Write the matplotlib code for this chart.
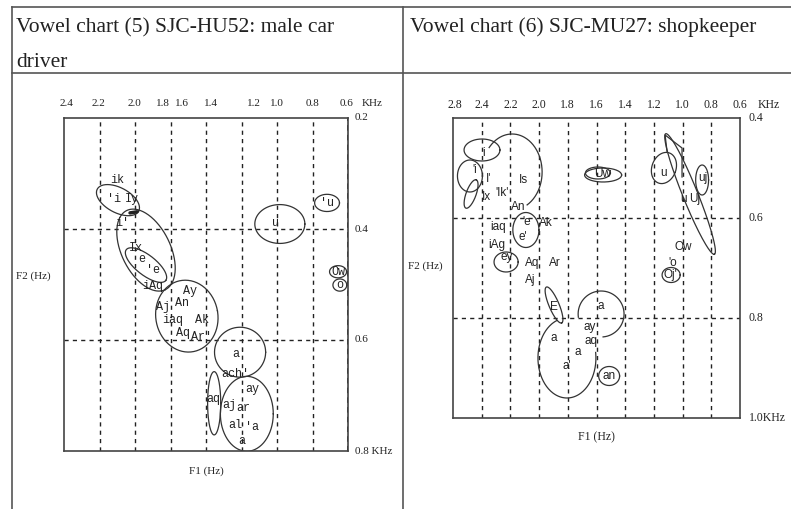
import matplotlib
matplotlib.use("Agg")
import matplotlib.pyplot as plt
import numpy as np

# ---- left chart (5): x = grid column (0..8), y = F1 kHz ----
l_xticks = [0.07, 0.98, 1.98, 2.79, 3.33, 4.15, 5.34, 6.0, 7.0, 7.95, 8.68]
l_xlabels = ['2.4', '2.2', '2.0', '1.8', '1.6', '1.4', '1.2', '1.0', '0.8', '0.6', 'KHz']
l_yticks = [0.2, 0.4, 0.6, 0.8]
l_ylabels = ['0.2', '0.4', '0.6', '0.8 KHz']

l_vowels = ['ik', "'i", 'Iy', "i'", 'Ix', 'e', "'e", 'iAq', 'Ay', 'An', 'Aj', 'iaq',
            'Ak', 'Aq', "Ar'", "a'", "ach'", 'aq', 'ay', 'aj', 'ar', 'al', "'a", 'a',
            'u', "'u", 'Ow', 'o']
l_vx = [1.49, 1.42, 1.92, 1.63, 2.03, 2.20, 2.51, 2.51, 3.55, 3.32, 2.79, 3.07,
        3.89, 3.35, 3.87, 4.93, 4.82, 4.20, 5.30, 4.65, 5.04, 4.82, 5.30, 5.01,
        5.97, 7.41, 7.72, 7.77]
l_vy = [0.312, 0.346, 0.346, 0.389, 0.434, 0.454, 0.474, 0.503, 0.512, 0.533, 0.541, 0.564,
        0.564, 0.587, 0.595, 0.625, 0.661, 0.706, 0.688, 0.717, 0.723, 0.753, 0.757, 0.782,
        0.389, 0.353, 0.477, 0.501]

# ellipses: centre x, centre y, width (x units), height (kHz), tilt (deg)
l_ex = [1.52, 2.31, 2.31, 3.46, 4.96, 5.15, 4.23, 6.08, 7.41, 7.72, 7.77]
l_ey = [0.348, 0.438, 0.465, 0.557, 0.622, 0.733, 0.714, 0.391, 0.353, 0.477, 0.501]
l_ew = [1.32, 2.48, 1.41, 1.75, 1.44, 1.49, 0.37, 1.41, 0.70, 0.48, 0.39]
l_eh = [0.045, 0.088, 0.036, 0.130, 0.090, 0.135, 0.114, 0.070, 0.031, 0.022, 0.022]
l_ea = [-28, -64, -38, 10, 0, 0, 0, 0, 0, 0, 0]

# ---- right chart (6): x = grid column (0..10), y = F1 kHz ----
r_xticks = [0.06, 1, 2, 3, 4, 5, 6, 7, 8, 9, 10, 11]
r_xlabels = ['2.8', '2.4', '2.2', '2.0', '1.8', '1.6', '1.4', '1.2', '1.0', '0.8', '0.6', 'KHz']
r_yticks = [0.4, 0.6, 0.8, 1.0]
r_ylabels = ['0.4', '0.6', '0.8', '1.0KHz']

r_vowels = ['i', "'i", "I'", 'Ix', "'Ik'", 'Is', 'An', 'Ak', "'e", "e'", 'iaq', 'iAg',
            'ey', 'Aq', 'Ar', 'Aj', 'Uw', 'u', 'uj', 'u', 'Uj', 'Ow', "'o", "Oj'",
            'E', 'a', 'ay', 'aq', 'a', 'a', "a'", 'an']
r_vx = [1.05, 0.77, 1.25, 1.18, 1.71, 2.44, 2.26, 3.24, 2.58, 2.44, 1.57, 1.53,
        1.88, 2.75, 3.55, 2.68, 5.23, 7.32, 8.71, 8.05, 8.43, 8.01, 7.67, 7.56,
        3.52, 5.16, 4.77, 4.81, 3.52, 4.36, 3.97, 5.44]
r_vy = [0.470, 0.504, 0.522, 0.558, 0.550, 0.524, 0.578, 0.610, 0.608, 0.638, 0.618, 0.654,
        0.678, 0.690, 0.690, 0.724, 0.512, 0.510, 0.520, 0.562, 0.562, 0.658, 0.690, 0.714,
        0.778, 0.776, 0.818, 0.846, 0.840, 0.868, 0.896, 0.916]

# ellipses / open loops: centre, width, height, tilt, arc start, arc end (deg)
r_ex = [1.01, 0.59, 0.63, 2.06, 2.54, 1.85, 5.23, 5.05, 7.35, 8.26, 8.68, 7.60, 3.52, 3.97, 5.16, 5.44]
r_ey = [0.464, 0.516, 0.552, 0.508, 0.624, 0.688, 0.514, 0.510, 0.500, 0.552, 0.524, 0.714, 0.774, 0.880, 0.792, 0.916]
r_ew = [1.25, 0.87, 1.05, 2.09, 0.91, 0.84, 1.29, 0.87, 0.84, 4.53, 0.45, 0.63, 1.36, 2.02, 1.60, 0.73]
r_eh = [0.044, 0.064, 0.020, 0.152, 0.070, 0.040, 0.028, 0.024, 0.064, 0.030, 0.060, 0.030, 0.020, 0.160, 0.092, 0.038]
r_ea = [0, 0, 70, 0, 0, 0, 0, 0, -20, -68, 0, 0, -67, 0, 0, 0]
r_t0 = [0, 0, 0, -60, 0, 0, 0, 0, 0, 0, 0, 0, 0, 110, -85, 0]
r_t1 = [360, 360, 360, 140, 360, 360, 360, 360, 360, 360, 360, 360, 360, 368, 188, 360]

# small triangle near the top 'u'
r_tri_x = [7.46, 7.39, 7.98, 7.98]
r_tri_y = [0.468, 0.434, 0.460, 0.518]

W, H = 791, 509
fig = plt.figure(figsize=(W / 100, H / 100), dpi=100)

bg = fig.add_axes([0, 0, 1, 1])
bg.set_xlim(0, W)
bg.set_ylim(H, 0)
bg.axis('off')

# table frame
tc = '#555555'
bg.plot([12, W], [7, 7], color=tc, lw=1.2)
bg.plot([12, W], [73, 73], color=tc, lw=1.2)
bg.plot([12, 12], [7, H], color=tc, lw=1.2)
bg.plot([403, 403], [7, H], color=tc, lw=1.2)

hfont = dict(family='Liberation Serif', fontsize=15.5, color='#222222', va='baseline')
bg.text(16, 32, 'Vowel chart (5) SJC-HU52: male car', **hfont)
bg.text(16, 67, 'driver', **hfont)
bg.text(410, 32, 'Vowel chart (6) SJC-MU27: shopkeeper', **hfont)


def blob(ax, cx, cy, w, h, ang=0, t0=0, t1=360, **kw):
    x0, x1 = ax.get_xlim()
    y0, y1 = ax.get_ylim()
    sx = ax.bbox.width / (x1 - x0)
    sy = ax.bbox.height / (y1 - y0)
    t = np.radians(np.linspace(t0, t1, 200))
    u = w / 2 * abs(sx) * np.cos(t)
    v = h / 2 * abs(sy) * np.sin(t)
    a = np.radians(ang)
    du = u * np.cos(a) - v * np.sin(a)
    dv = u * np.sin(a) + v * np.cos(a)
    ax.plot(cx + du / sx, cy + dv / sy, **kw)


def chart(rect, nx, ylo, yhi, hgrid, xt, xl, yt, yl, tick_fs, rlabel_x):
    ax = fig.add_axes(rect)
    ax.set_xlim(0, nx)
    ax.set_ylim(yhi, ylo)
    ax.set_xticks([])
    ax.set_yticks([])
    for s in ax.spines.values():
        s.set_color('#444444')
        s.set_linewidth(1.2)
    for gx in range(1, nx):
        ax.axvline(gx, color='#222222', lw=1.0, dashes=(3, 3))
    for gy in hgrid:
        ax.axhline(gy, color='#222222', lw=1.0, dashes=(3, 3))
    for p, s in zip(xt, xl):
        ax.text(p, 1.045, s, transform=ax.get_xaxis_transform(), ha='center', va='center',
                family='Liberation Serif', fontsize=tick_fs, color='#222222', clip_on=False)
    for p, s in zip(yt, yl):
        ax.text(rlabel_x, p, s, transform=ax.get_yaxis_transform(), ha='left', va='center',
                family='Liberation Serif', fontsize=tick_fs, color='#222222', clip_on=False)
    return ax


lc = '#333333'

# ---- left chart ----
axl = chart([64 / W, 1 - 451 / H, 284 / W, 333 / H], 8, 0.2, 0.8, [0.4, 0.6],
            l_xticks, l_xlabels, l_yticks, l_ylabels, 8, 1.025)
axl.axvline(8, color='#111111', lw=2.0, dashes=(2, 1.5))
for s, x, y in zip(l_vowels, l_vx, l_vy):
    axl.text(x, y, s, ha='center', va='center', family='Liberation Mono', fontsize=8.5,
             color='#222222')
for cx, cy, w, h, a in zip(l_ex, l_ey, l_ew, l_eh, l_ea):
    blob(axl, cx, cy, w, h, a, color=lc, lw=0.9)
axl.plot([1.86, 2.06], [0.371, 0.369], color='#222222', lw=2.5, solid_capstyle='round')
axl.text(0.5, -0.06, 'F1 (Hz)', transform=axl.transAxes, ha='center', va='center',
         family='Liberation Serif', fontsize=8, color='#222222')
bg.text(33, 276, 'F2 (Hz)', ha='center', va='center', family='Liberation Serif',
        fontsize=8, color='#222222')

# ---- right chart ----
axr = chart([453 / W, 1 - 418 / H, 287 / W, 300 / H], 10, 0.4, 1.0, [0.6, 0.8],
            r_xticks, r_xlabels, r_yticks, r_ylabels, 8.5, 1.03)
for s, x, y in zip(r_vowels, r_vx, r_vy):
    axr.text(x, y, s, ha='center', va='center', family='Liberation Sans', fontsize=8.5,
             color='#222222')
for cx, cy, w, h, a, t0, t1 in zip(r_ex, r_ey, r_ew, r_eh, r_ea, r_t0, r_t1):
    blob(axr, cx, cy, w, h, a, t0, t1, color=lc, lw=0.9)
axr.plot(r_tri_x, r_tri_y, color=lc, lw=0.9)
axr.text(0.5, -0.065, 'F1 (Hz)', transform=axr.transAxes, ha='center', va='center',
         family='Liberation Serif', fontsize=8.5, color='#222222')
bg.text(425, 266, 'F2 (Hz)', ha='center', va='center', family='Liberation Serif',
        fontsize=8, color='#222222')

fig.savefig('out.png', dpi=100)
